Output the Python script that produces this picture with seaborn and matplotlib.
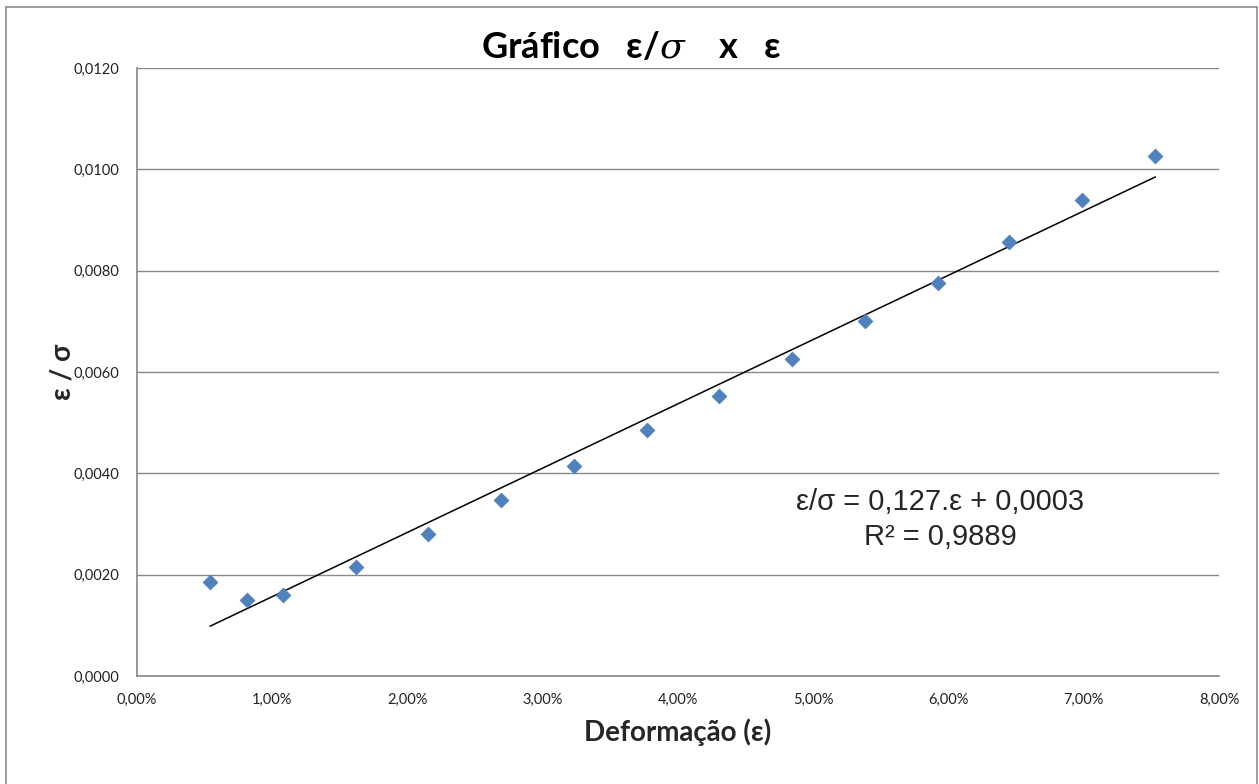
import numpy as np
import pandas as pd
import seaborn as sns
import matplotlib.pyplot as plt
from matplotlib.ticker import FuncFormatter, MultipleLocator
from matplotlib.lines import Line2D

# deformação (fração) e ε/σ
deformacao = [0.0054, 0.0081, 0.0108, 0.0162, 0.0215, 0.0269, 0.0323, 0.0377,
              0.0430, 0.0484, 0.0538, 0.0592, 0.0645, 0.0699, 0.0753]
eps_sigma = [0.00185, 0.00150, 0.00160, 0.00215, 0.00280, 0.00347, 0.00414, 0.00486,
             0.00553, 0.00626, 0.00701, 0.00776, 0.00857, 0.00940, 0.01026]

titulo = "Gráfico   ε/$\\sigma$    x   ε"
rotulo_x = "Deformação (ε)"
rotulo_y = "ε / σ"
equacao = "ε/σ = 0,127.ε + 0,0003"
r2_texto = "R² = 0,9889"

df = pd.DataFrame({"eps": deformacao, "eps_sigma": eps_sigma})

sns.set_style("white")
plt.rcParams["font.family"] = ["Lato", "DejaVu Sans"]
plt.rcParams["mathtext.fontset"] = "dejavuserif"

fig = plt.figure(figsize=(12.59, 7.84), dpi=100)
ax = fig.add_axes([137 / 1259, 1 - 676 / 784, (1219 - 137) / 1259, (676 - 68) / 784])

# linha de tendência (mínimos quadrados)
coef = np.polyfit(df["eps"], df["eps_sigma"], 1)
xs = np.array([df["eps"].min(), df["eps"].max()])
ax.plot(xs, np.polyval(coef, xs), color="black", lw=1.1, zorder=2)

sns.scatterplot(data=df, x="eps", y="eps_sigma", marker="D", s=60, color="#4F81BD",
                edgecolor="#4A7EBB", linewidth=0.3, ax=ax, zorder=3)

ax.set_xlim(0, 0.08)
ax.set_ylim(0, 0.012)
ax.xaxis.set_major_locator(MultipleLocator(0.01))
ax.yaxis.set_major_locator(MultipleLocator(0.002))
ax.xaxis.set_major_formatter(FuncFormatter(lambda v, p: f"{v*100:.2f}%".replace(".", ",")))
ax.yaxis.set_major_formatter(FuncFormatter(lambda v, p: f"{v:.4f}".replace(".", ",")))
ax.tick_params(axis="both", labelsize=10.5, length=0, colors="#222222")
ax.tick_params(axis="y", pad=13)
ax.tick_params(axis="x", pad=12)
ax.grid(axis="y", color="#888888", lw=1)
ax.set_axisbelow(True)
for s in ["top", "right"]:
    ax.spines[s].set_visible(False)
for s in ["left", "bottom"]:
    ax.spines[s].set_color("#868686")
    ax.spines[s].set_linewidth(1.2)

ax.set_xlabel(rotulo_x, fontsize=20, fontweight="bold")
ax.set_ylabel(rotulo_y, fontsize=20, fontweight="bold")
ax.xaxis.set_label_coords(0.5, -0.07)
ax.yaxis.set_label_coords(-0.057, 0.5)

fig.text(631 / 1259, 1 - 48 / 784, titulo, fontsize=26, fontweight="bold",
         ha="center", va="center", color="black")

fig.text(940 / 1259, 1 - 502 / 784, equacao, fontsize=21, family="Liberation Sans",
         ha="center", va="center")
fig.text(940 / 1259, 1 - 537 / 784, r2_texto, fontsize=21, family="Liberation Sans",
         ha="center", va="center")

# moldura externa do gráfico
borda = dict(color="#8c8c8c", lw=1.2, transform=fig.transFigure)
x0, x1, y1 = 6 / 1259, 1257 / 1259, 1 - 7 / 784
fig.add_artist(Line2D([x0, x1], [y1, y1], **borda))
fig.add_artist(Line2D([x0, x0], [0, y1], **borda))
fig.add_artist(Line2D([x1, x1], [0, y1], **borda))

fig.savefig("out.png", dpi=100)
